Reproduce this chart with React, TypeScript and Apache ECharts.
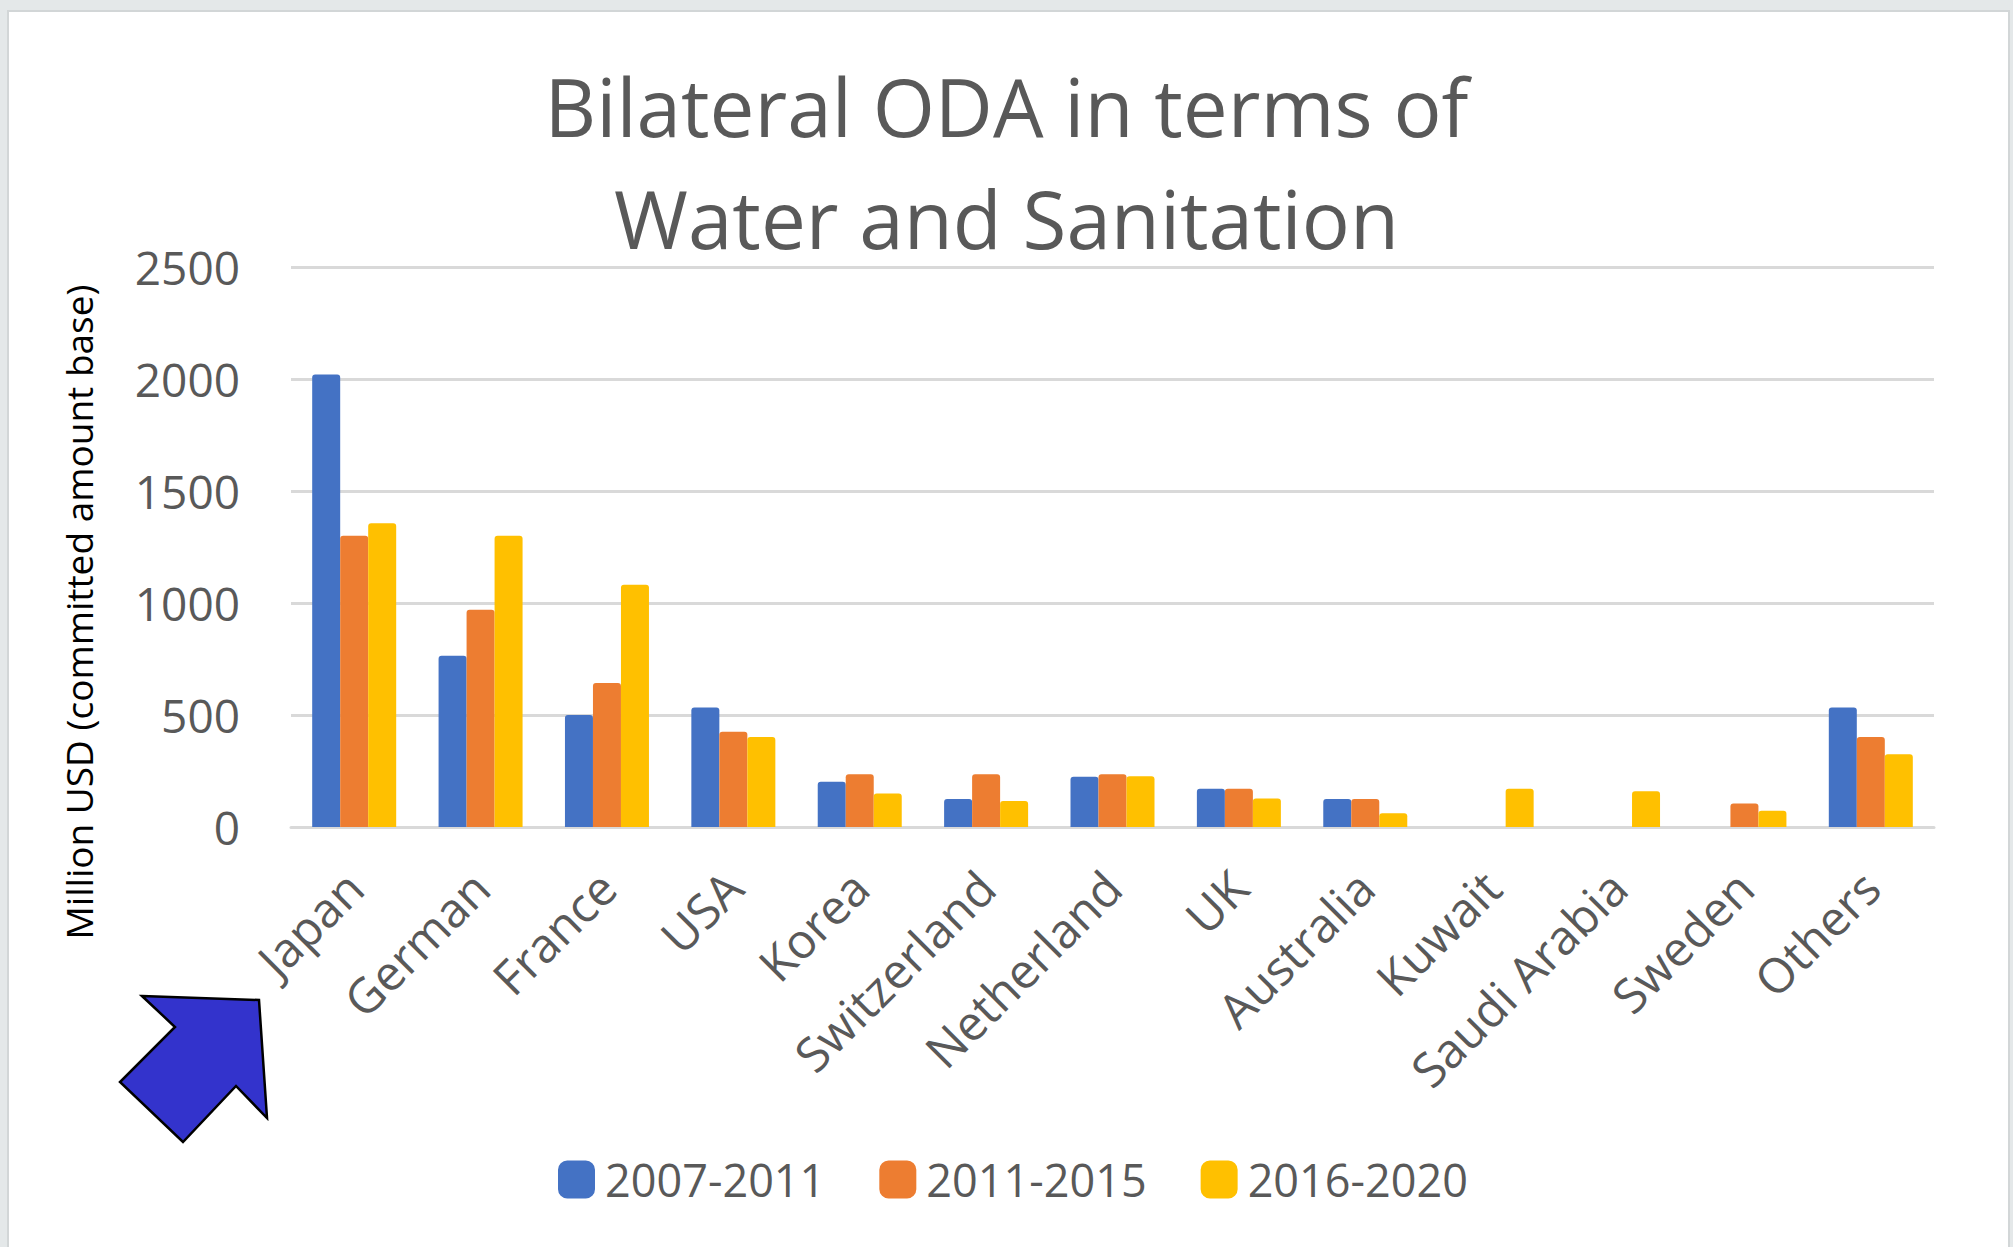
import React, { useEffect, useRef } from "react";
import * as echarts from "echarts";

const categories = [
  "Japan", "German", "France", "USA", "Korea", "Switzerland", "Netherland",
  "UK", "Australia", "Kuwait", "Saudi Arabia", "Sweden", "Others",
];
const seriesNames = ["2007-2011", "2011-2015", "2016-2020"];
const values2007_2011 = [2020, 765, 500, 533, 202, 125, 224, 171, 125, null, null, null, 533];
const values2011_2015 = [1300, 970, 643, 425, 236, 236, 236, 171, 125, null, null, 105, 402];
const values2016_2020 = [1356, 1300, 1081, 402, 150, 116, 227, 127, 61, 171, 160, 73, 325];
const seriesColors = ["#4472C4", "#ED7D31", "#FFC000"];
const yTicks = { min: 0, max: 2500, interval: 500 };

const titleText = "Bilateral ODA in terms of\nWater and Sanitation";
const yAxisTitle = "Million USD (committed amount base)";

const FONT = "'Open Sans', 'Noto Sans', sans-serif";

export default function App() {
  const ref = useRef<HTMLDivElement>(null);

  useEffect(() => {
    if (!ref.current) return;
    const chart = echarts.init(ref.current, null, { renderer: "svg" });
    const allValues = [values2007_2011, values2011_2015, values2016_2020];
    chart.setOption({
      animation: false,
      backgroundColor: "#e4e8e9",
      title: {
        text: titleText,
        left: "center",
        top: 49,
        padding: 0,
        textStyle: {
          fontFamily: FONT,
          fontSize: 80,
          lineHeight: 112,
          fontWeight: "normal",
          color: "#595959",
        },
      },
      legend: {
        data: seriesNames,
        left: 558,
        top: 1157,
        padding: 0,
        icon: "roundRect",
        itemWidth: 37,
        itemHeight: 38,
        itemGap: 54,
        textStyle: {
          fontFamily: FONT,
          fontSize: 45,
          color: "#595959",
          padding: [0, 0, 0, 5],
        },
      },
      grid: { left: 291, right: 79, top: 267, bottom: 420, containLabel: false },
      xAxis: {
        type: "category",
        data: categories,
        axisLine: { show: true, lineStyle: { color: "#d9d9d9", width: 3 } },
        axisTick: { show: false },
        axisLabel: {
          interval: 0,
          rotate: 45,
          margin: 52,
          fontFamily: FONT,
          fontSize: 48,
          color: "#595959",
        },
      },
      yAxis: {
        type: "value",
        min: yTicks.min,
        max: yTicks.max,
        interval: yTicks.interval,
        axisLine: { show: false },
        axisTick: { show: false },
        splitLine: { lineStyle: { color: "#d9d9d9", width: 3 } },
        axisLabel: {
          margin: 51,
          fontFamily: FONT,
          fontSize: 46,
          color: "#595959",
          formatter: (v: number) => String(v),
        },
      },
      series: seriesNames.map((name, i) => ({
        name,
        type: "bar",
        data: allValues[i],
        barWidth: 28,
        barGap: "0%",
        itemStyle: { color: seriesColors[i], borderRadius: [3, 3, 0, 0] },
      })),
      graphic: [
        {
          type: "rect",
          z: -100,
          shape: { x: 8, y: 11, width: 2001, height: 1240 },
          style: { fill: "#ffffff", stroke: "#d2d6d7", lineWidth: 2 },
        },
        {
          type: "text",
          x: 78,
          y: 612,
          rotation: Math.PI / 2,
          style: {
            text: yAxisTitle,
            fontFamily: FONT,
            fontSize: 37,
            fill: "#000000",
            align: "center",
            verticalAlign: "middle",
          },
        },
        {
          type: "polygon",
          shape: {
            points: [
              [142, 996], [259, 1000], [267, 1118], [236, 1086],
              [183, 1142], [120, 1082], [175, 1027],
            ],
          },
          style: { fill: "#3333CC", stroke: "#000000", lineWidth: 2.5 },
        },
      ],
    });
    return () => chart.dispose();
  }, []);

  return (
    <div
      ref={ref}
      style={{ position: "fixed", left: 0, top: 0, width: 2013, height: 1247 }}
    />
  );
}
